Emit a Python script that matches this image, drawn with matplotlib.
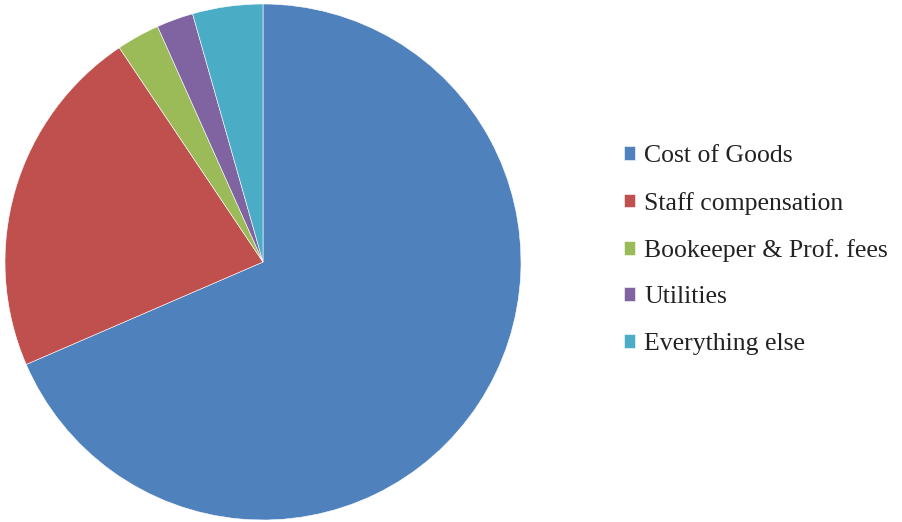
import matplotlib.pyplot as plt

labels = ["Cost of Goods", "Staff compensation", "Bookeeper & Prof. fees",
          "Utilities", "Everything else"]
shares = [68.5, 22.1, 2.7, 2.3, 4.4]
colors = ["#4F81BD", "#C0504D", "#9BBB59", "#8064A2", "#4BACC6"]

plt.rcParams['font.family'] = ['Liberation Serif', 'DejaVu Serif']

fig = plt.figure(figsize=(9.03, 5.22), dpi=100)
ax = fig.add_axes([5 / 903, 2 / 522, 516 / 903, 516 / 522])
wedges, _ = ax.pie(shares, colors=colors, startangle=90, counterclock=False,
                   wedgeprops={"edgecolor": "white", "linewidth": 0.4})
ax.set_xlim(-1, 1)
ax.set_ylim(-1, 1)
ax.set_aspect("equal")

fig.legend(wedges, labels, loc="center left", bbox_to_anchor=(0.691, 0.521),
           frameon=False, fontsize=18.5, handlelength=0.44, handleheight=0.44,
           handletextpad=0.34, labelspacing=0.95, borderpad=0, borderaxespad=0,
           labelcolor="#222222")

fig.savefig("out.png", dpi=100)
